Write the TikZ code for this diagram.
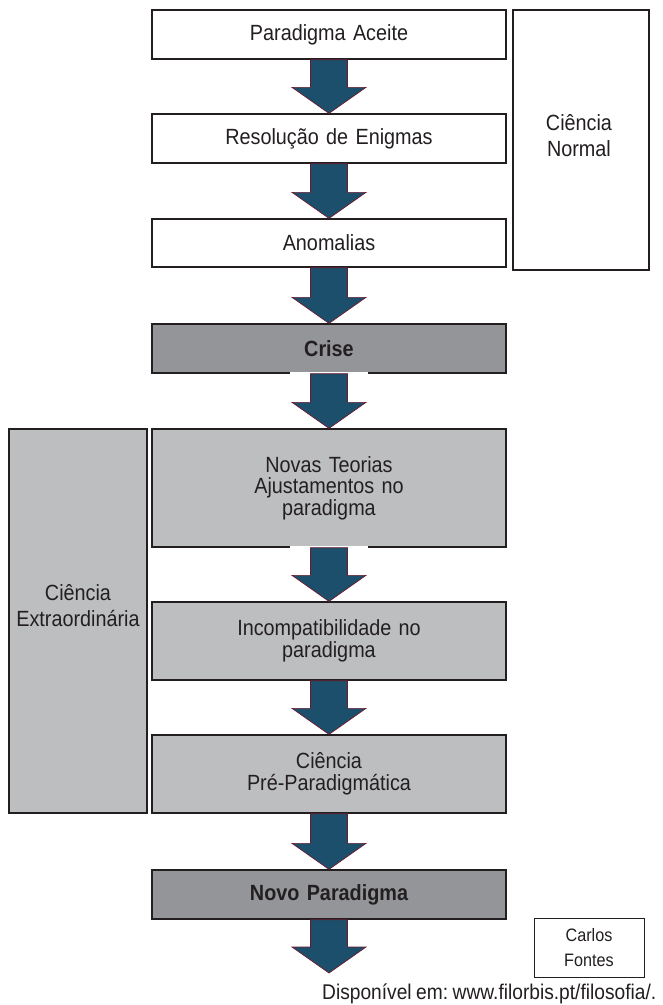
\documentclass[tikz,border=0pt]{standalone}
\usepackage{fontspec}
\setmainfont[FakeStretch=0.9,WordSpace=0.85]{Liberation Sans}
\usetikzlibrary{calc}
\definecolor{ink}{HTML}{231F20}
\definecolor{grayA}{HTML}{939598}
\definecolor{grayB}{HTML}{BCBEC0}
\definecolor{arrowfill}{HTML}{1B4F6B}
\definecolor{arrowedge}{HTML}{6D1A2E}
\frenchspacing
\newcommand{\blockarrow}[2]{%
  \path let \p1=(#1.south), \p2=(#2.north) in
    [draw=arrowedge, fill=arrowfill, line width=0.7pt, line join=miter]
    (\x1-18.5pt,\y1) -- (\x1+18.5pt,\y1) -- (\x1+18.5pt,\y2+26pt) --
    (\x1+37pt,\y2+26pt) -- (\x1,\y2) -- (\x1-37pt,\y2+26pt) --
    (\x1-18.5pt,\y2+26pt) -- cycle;}
\tikzset{
  box/.style={draw=ink, line width=1.3pt, minimum width=354pt, inner sep=0pt,
    text width=340pt, align=center, text=ink, font=\fontsize{22}{21.5}\selectfont},
  whitebox/.style={box, fill=white},
  lightbox/.style={box, fill=grayB},
  darkbox/.style={box, fill=grayA, font=\fontsize{22}{21.5}\selectfont\bfseries},
  sidebox/.style={draw=ink, line width=1.3pt, inner sep=0pt},
  sidetext/.style={text=ink, align=center, inner sep=0pt, font=\fontsize{22}{26}\selectfont},
  signbox/.style={draw=ink, line width=1pt, inner sep=0pt, minimum width=110pt,
    minimum height=59pt, align=center, text=ink, font=\fontsize{18}{25}\selectfont},
  source/.style={text=ink, inner sep=0pt, font=\fontsize{21.3}{22}\selectfont}
}
\begin{document}
\begin{tikzpicture}[x=1pt,y=-1pt]
\useasboundingbox (0,0) rectangle (662,1005);
\fill[white] (0,0) rectangle (662,1005);

% side boxes
\node[sidebox, minimum width=136pt, minimum height=260pt, fill=white] (normal) at (581,140) {};
\node[sidetext] (normaltxt) at (579,136) {Ciência\\Normal};
\node[sidebox, minimum width=138pt, minimum height=384pt, fill=grayB] (extra) at (78,621) {};
\node[sidetext] (extratxt) at (78,606) {Ciência\\Extraordinária};

% main column
\node[whitebox, minimum height=49pt] (b1) at (329,34.5) {Paradigma Aceite};
\node[whitebox, minimum height=49pt] (b2) at (329,138.5) {Resolução de Enigmas};
\node[whitebox, minimum height=48pt] (b3) at (329,243) {Anomalias};
\node[darkbox, minimum height=49pt] (b4) at (329,348.5) {Crise};
\node[lightbox, minimum height=118pt] (b5) at (329,488) {Novas Teorias\\Ajustamentos no\\paradigma};
\node[lightbox, minimum height=78pt] (b6) at (329,641) {Incompatibilidade no\\paradigma};
\node[lightbox, minimum height=78pt] (b7) at (329,774) {Ciência\\Pré-Paradigmática};
\node[darkbox, minimum height=49pt] (b8) at (329,894.5) {Novo Paradigma};
\coordinate (end) at (329,973);

% small gaps in the bottom borders
\fill[white] (290,371.5) rectangle (368,375);
\fill[white] (290,545.5) rectangle (368,549);

% block arrows
\blockarrow{b1}{b2}
\blockarrow{b2}{b3}
\blockarrow{b3}{b4}
\blockarrow{b4}{b5}
\blockarrow{b5}{b6}
\blockarrow{b6}{b7}
\blockarrow{b7}{b8}
\path let \p1=(b8.south), \p2=(end) in
    [draw=arrowedge, fill=arrowfill, line width=0.7pt, line join=miter]
    (\x1-18.5pt,\y1) -- (\x1+18.5pt,\y1) -- (\x1+18.5pt,\y2+26pt) --
    (\x1+37pt,\y2+26pt) -- (\x1,\y2) -- (\x1-37pt,\y2+26pt) --
    (\x1-18.5pt,\y2+26pt) -- cycle;

% signature and source
\node[signbox] (sign) at (589,947.5) {Carlos\\Fontes};
\node[source, anchor=base west] (src) at (322,999) {Disponível em: www.filorbis.pt/filosofia/.};
\end{tikzpicture}
\end{document}
